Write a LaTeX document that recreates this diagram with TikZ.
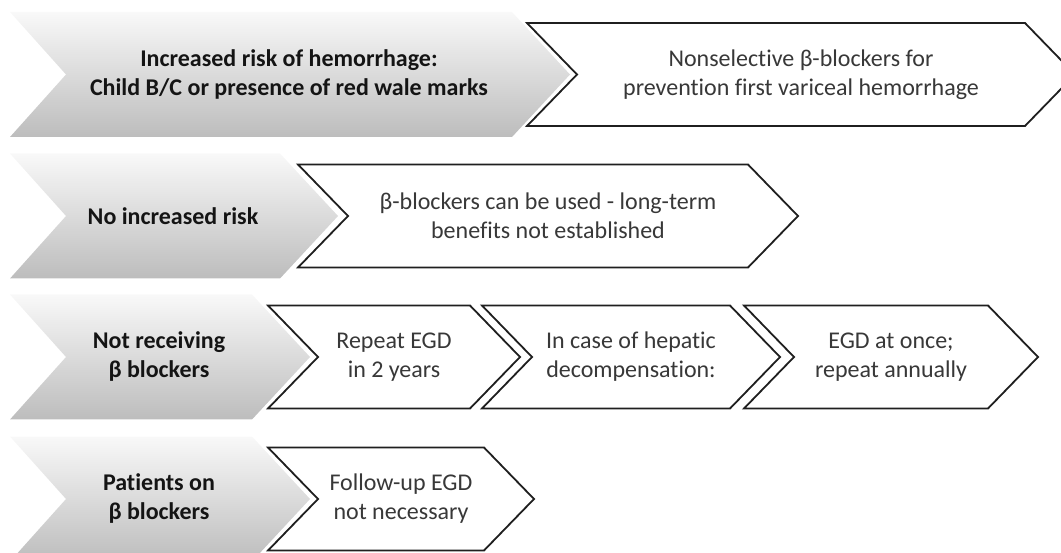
\documentclass[tikz,border=0pt]{standalone}
\usepackage{fontspec}
\setmainfont{Carlito}[Ligatures=NoCommon]
\begin{document}
\begin{tikzpicture}[x=1pt,y=-1pt,
  grayshape/.style={top color=gray!5, bottom color=gray!52, draw=none},
  whiteshape/.style={fill=white, draw=black!88, line width=1.8pt, line join=miter},
  lbl/.style={align=center, font=\fontsize{24}{29}\selectfont\bfseries, text=black!92, inner sep=0pt},
  txt/.style={align=center, font=\fontsize{24}{29}\selectfont, text=black!78, inner sep=0pt}]
\useasboundingbox (0,0) rectangle (1061,553);
\newcommand\GrayChev[4]{%
  \path[grayshape] (10,#2-62.5) -- (#3,#2-62.5) -- (#3+58,#2) -- (#3,#2+62.5) -- (10,#2+62.5) -- (66,#2) -- cycle;
  \node[lbl] (#1) at ({(66+#3)/2},#2) {#4};}
\newcommand\WhiteChev[5]{%
  \draw[whiteshape] (#3,#2-51.5) -- (#4,#2-51.5) -- (#4+50,#2) -- (#4,#2+51.5) -- (#3,#2+51.5) -- (#3+50,#2) -- cycle;
  \node[txt] (#1) at ({(#3+50+#4)/2},#2) {#5};}
% row 1
\GrayChev{g1}{74.5}{512}{Increased risk of hemorrhage:\\Child B/C or presence of red wale marks}
\WhiteChev{w1}{74.5}{527}{1025}{Nonselective β-blockers for\\prevention first variceal hemorrhage}
% row 2
\GrayChev{g2}{216}{280}{No increased risk}
\WhiteChev{w2}{216}{298}{748}{β-blockers can be used - long-term\\benefits not established}
% row 3
\GrayChev{g3}{357}{252}{Not receiving\\β blockers}
\WhiteChev{w3a}{357}{268}{470}{Repeat EGD\\in 2 years}
\WhiteChev{w3b}{357}{482}{730}{In case of hepatic\\decompensation:}
\WhiteChev{w3c}{357}{744}{988}{EGD at once;\\repeat annually}
% row 4
\GrayChev{g4}{499}{252}{Patients on\\β blockers}
\WhiteChev{w4}{499}{268}{484}{Follow-up EGD\\not necessary}
\end{tikzpicture}
\end{document}
